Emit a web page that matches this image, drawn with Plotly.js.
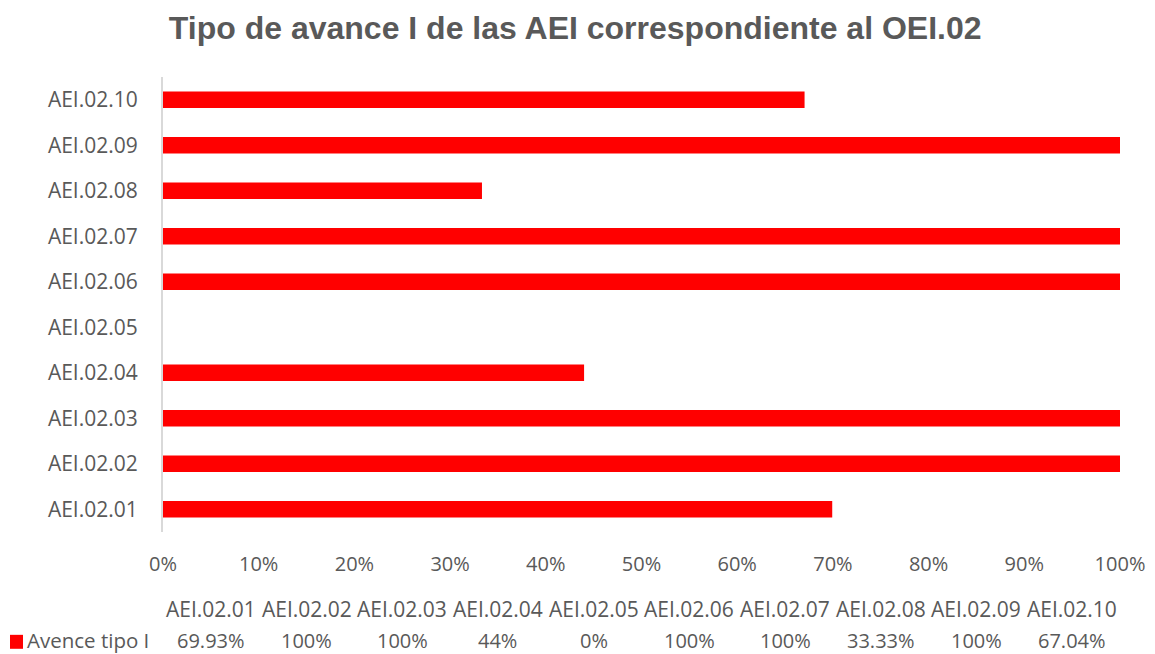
<!DOCTYPE html>
<html>
<head>
<meta charset="utf-8">
<script src="https://cdn.plot.ly/plotly-3.0.1.min.js"></script>
<style>html,body{margin:0;padding:0;background:#fff;}#chart{width:1155px;height:654px;}</style>
</head>
<body>
<div id="chart"></div>
<script>
const categories = ["AEI.02.01","AEI.02.02","AEI.02.03","AEI.02.04","AEI.02.05","AEI.02.06","AEI.02.07","AEI.02.08","AEI.02.09","AEI.02.10"];
const values = [0.6993, 1.0, 1.0, 0.44, 0.0, 1.0, 1.0, 0.3333, 1.0, 0.6704];
const valueLabels = ["69.93%","100%","100%","44%","0%","100%","100%","33.33%","100%","67.04%"];
const seriesName = "Avence tipo I";
const xTicks = [0,0.1,0.2,0.3,0.4,0.5,0.6,0.7,0.8,0.9,1.0];
const xTickLabels = ["0%","10%","20%","30%","40%","50%","60%","70%","80%","90%","100%"];

const gray = "#595959";
const font = "'Open Sans', 'Noto Sans', sans-serif";
const fs = 20;
const fsCat = 21;

const trace = {
  type: "bar",
  orientation: "h",
  y: categories,
  x: values,
  marker: {color: "#ff0000"},
  width: 0.36,
  hoverinfo: "x+y",
  showlegend: false
};

const annotations = [];
categories.forEach((c, i) => {
  annotations.push({
    xref: "x", yref: "paper", x: (i + 0.5) / categories.length, y: -0.169,
    text: c, showarrow: false, xanchor: "center", yanchor: "middle",
    font: {family: font, size: fsCat, color: gray}
  });
  annotations.push({
    xref: "x", yref: "paper", x: (i + 0.5) / categories.length, y: -0.2374,
    text: valueLabels[i], showarrow: false, xanchor: "center", yanchor: "middle",
    font: {family: font, size: fs, color: gray}
  });
});
annotations.push({
  xref: "paper", yref: "paper", x: -0.1445, y: -0.2374,
  text: seriesName, showarrow: false,
  xanchor: "left", yanchor: "middle",
  font: {family: font, size: 20.5, color: gray}
});

const layout = {
  width: 1155, height: 654,
  margin: {l: 163, r: 35, t: 77, b: 122},
  paper_bgcolor: "#fff", plot_bgcolor: "#fff",
  title: {
    text: "<b>Tipo de avance I de las AEI correspondiente al OEI.02</b>",
    font: {family: "'Liberation Sans', Arial, sans-serif", size: 32, color: gray},
    x: 0.498, xanchor: "center", y: 0.958, yanchor: "middle"
  },
  xaxis: {
    range: [0, 1], tickvals: xTicks, ticktext: xTickLabels,
    showgrid: false, zeroline: false, showline: false, ticks: "",
    tickfont: {family: font, size: fs, color: gray},
    ticklabelstandoff: 18, fixedrange: true
  },
  yaxis: {
    type: "category", categoryorder: "array", categoryarray: categories,
    showgrid: false, zeroline: false, showline: true, linecolor: "#d9d9d9", linewidth: 2,
    ticks: "", tickfont: {family: font, size: fsCat, color: gray},
    ticklabelstandoff: 19, fixedrange: true
  },
  bargap: 0.64,
  shapes: [{
    type: "rect", xref: "paper", yref: "paper",
    x0: -0.1599, x1: -0.1463, y0: -0.226, y1: -0.2567,
    fillcolor: "#ff0000", line: {width: 0}
  }],
  annotations: annotations,
  showlegend: false
};

Plotly.newPlot("chart", [trace], layout, {displayModeBar: false, staticPlot: true});
</script>
</body>
</html>
